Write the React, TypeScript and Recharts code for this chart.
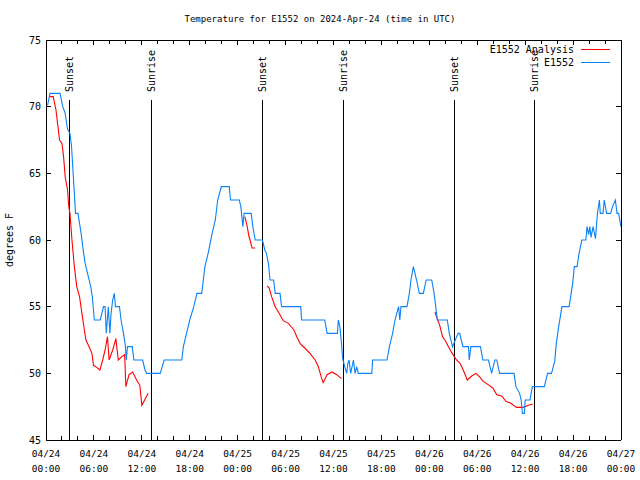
import React from 'react';
import { LineChart, Line, XAxis, YAxis, ReferenceLine } from 'recharts';

// hours since 04/24 00:00 UTC, temperature in F
const e1552: [number, number][] = [
  [0.2, 70.1], [0.5, 71], [1.75, 71], [2.1, 70], [2.4, 69.5], [2.7, 68.3], [3.0, 68],
  [3.2, 67], [3.45, 64.5], [3.7, 62], [4.0, 62], [4.2, 61.25], [4.4, 60.5], [4.6, 59.5],
  [4.9, 58.25], [5.2, 57.5], [5.6, 56.5], [5.8, 55.75], [6.05, 54], [6.8, 54], [7.2, 55],
  [7.4, 55], [7.55, 53], [7.8, 55], [8.0, 53], [8.15, 54.5], [8.35, 55.5], [8.55, 56],
  [8.7, 55], [9.2, 55], [9.4, 54], [9.7, 53], [9.95, 52], [10.05, 51], [10.2, 52],
  [10.8, 52], [11.0, 51], [12.1, 51], [12.4, 50.25], [12.6, 50], [14.3, 50], [14.8, 51],
  [17.0, 51], [17.2, 52], [17.6, 53], [18.0, 54], [18.5, 55], [18.9, 56], [19.5, 56],
  [19.9, 58], [20.3, 59], [20.8, 60.5], [21.2, 61.5], [21.5, 63], [21.95, 64], [22.95, 64],
  [23.1, 63], [24.2, 63], [24.4, 62.5], [24.65, 61], [24.8, 62], [25.7, 62], [25.9, 61],
  [26.2, 60], [27.1, 60], [27.4, 59.25], [27.6, 59], [27.85, 58.25], [28.05, 57], [28.5, 57],
  [28.7, 56], [29.3, 56], [29.5, 55], [31.9, 55], [32.0, 54], [34.9, 54], [35.2, 53],
  [36.5, 53], [36.6, 54], [36.8, 53.5], [37.0, 52.25], [37.15, 51.1], [37.4, 50.5],
  [37.65, 50], [37.8, 50.75], [37.95, 51], [38.15, 50], [38.5, 51], [38.7, 50], [38.9, 50.5],
  [39.1, 50], [40.8, 50], [40.9, 51], [42.7, 51], [43.0, 52], [43.4, 53], [43.7, 54],
  [44.15, 55], [44.3, 54], [44.45, 55], [45.2, 55], [45.5, 56], [45.7, 57], [46.0, 58],
  [46.4, 57], [46.75, 56], [47.25, 56], [47.6, 57], [48.3, 57], [48.6, 56], [48.8, 55],
  [49.0, 54], [50.25, 54], [50.5, 53], [50.9, 52], [51.6, 53], [51.8, 53], [52.2, 52],
  [52.9, 52], [53.0, 51], [53.2, 52], [54.4, 52], [54.7, 51], [55.4, 51], [55.8, 50],
  [56.2, 51], [56.45, 51], [56.8, 50], [58.6, 50], [58.85, 49], [59.3, 48.5], [59.5, 48],
  [59.65, 47], [59.9, 47], [60.0, 48], [60.6, 48], [60.9, 49], [62.4, 49], [62.8, 50],
  [63.3, 50], [63.7, 50.9], [63.9, 52.25], [64.2, 53.5], [64.6, 55], [65.5, 55],
  [65.7, 55.75], [65.95, 56.75], [66.15, 58], [66.5, 58], [66.75, 59], [67.1, 60],
  [67.6, 60], [67.75, 61], [67.95, 60.4], [68.1, 61], [68.25, 60.2], [68.5, 61],
  [68.8, 60.1], [69.05, 62], [69.3, 63], [69.4, 62], [69.75, 62], [69.9, 63], [70.2, 62],
  [70.7, 62], [71.0, 62.6], [71.3, 63], [71.5, 62], [71.7, 62], [72.0, 61],
];

const analysisNight1: [number, number][] = [
  [0.5, 70.75], [0.9, 70.75], [1.25, 69.75], [1.45, 68.75], [1.7, 67.5], [2.0, 67.25],
  [2.2, 66.25], [2.4, 64.75], [2.7, 63.75], [2.85, 62.5], [3.0, 62], [3.25, 60], [3.55, 58],
  [3.85, 56.5], [4.2, 55.75], [4.5, 54.5], [4.8, 53.25], [5.0, 52.5], [5.4, 52], [5.75, 51.5],
  [5.95, 50.6], [6.35, 50.45], [6.75, 50.25], [7.1, 51], [7.4, 51.75], [7.7, 52.75],
  [7.9, 51], [8.35, 51.75], [8.75, 52.6], [9.05, 51], [9.5, 51.25], [9.85, 51.4], [10.0, 49],
  [10.4, 49.9], [10.85, 50.1], [11.35, 49.5], [11.75, 49.1], [12.0, 47.6], [12.8, 48.5],
];
const analysisEvening1: [number, number][] = [
  [24.9, 61.75], [25.2, 61.0], [25.4, 60.3], [25.55, 60.0], [25.8, 59.4], [26.2, 59.4],
];
const analysisNight2: [number, number][] = [
  [27.7, 56.55], [27.95, 56.4], [28.25, 55.75], [28.7, 55], [29.3, 54.4], [29.7, 53.95],
  [30.35, 53.75], [31.05, 53.25], [31.4, 52.75], [31.8, 52.25], [32.4, 51.9], [33.05, 51.5],
  [33.7, 51], [34.1, 50.5], [34.45, 49.75], [34.7, 49.3], [35.2, 49.9], [35.8, 50.1],
  [36.4, 49.9], [37.0, 49.6],
];
const analysisNight3: [number, number][] = [
  [48.7, 54.6], [49.05, 54], [49.3, 53.6], [49.65, 52.75], [49.95, 52.5], [50.4, 52],
  [50.8, 51.55], [51.4, 51], [51.85, 50.75], [52.25, 50.25], [52.75, 49.5], [53.3, 49.8],
  [53.85, 50], [54.35, 49.7], [54.75, 49.4], [55.5, 49.1], [55.95, 48.9], [56.45, 48.4],
  [57.05, 48.3], [57.6, 47.9], [58.2, 47.75], [58.9, 47.45], [59.75, 47.45], [60.4, 47.6],
  [60.95, 47.7],
];

const sunHours = [3.0, 13.27, 27.05, 37.19, 51.09, 61.23];
const sunLabels = ['Sunset', 'Sunrise', 'Sunset', 'Sunrise', 'Sunset', 'Sunrise'];

const xTicks = Array.from({ length: 37 }, (_, i) => i * 2);
const xTickDates = ['04/24', '04/24', '04/24', '04/24', '04/25', '04/25', '04/25', '04/25', '04/26', '04/26', '04/26', '04/26', '04/27'];
const xTickTimes = ['00:00', '06:00', '12:00', '18:00', '00:00', '06:00', '12:00', '18:00', '00:00', '06:00', '12:00', '18:00', '00:00'];
const yTicks = [45, 50, 55, 60, 65, 70, 75];

const FONT = "'DejaVu Sans Mono', monospace";
const BLUE = '#0a82f5';
const RED = '#ff0000';

const toRows = (pts: [number, number][]) => pts.map(([h, t]) => ({ h, t }));
const blueData = toRows(e1552);
const redData = [
  ...toRows(analysisNight1), { h: 13, t: null },
  ...toRows(analysisEvening1), { h: 27, t: null },
  ...toRows(analysisNight2), { h: 40, t: null },
  ...toRows(analysisNight3),
];

const BottomTick = ({ x, y, payload }: any) => {
  const v = payload.value;
  const major = v % 6 === 0;
  return (
    <g>
      <line x1={x} y1={y} x2={x} y2={y - (major ? 5 : 4)} stroke="#000" shapeRendering="crispEdges" />
      {major && (
        <text x={x} textAnchor="middle" fontFamily={FONT} fontSize={9.5} fill="#000">
          <tspan x={x} y={y + 17}>{xTickDates[v / 6]}</tspan>
          <tspan x={x} y={y + 32}>{xTickTimes[v / 6]}</tspan>
        </text>
      )}
    </g>
  );
};

const TopTick = ({ x, y, payload }: any) => {
  const major = payload.value % 6 === 0;
  return <line x1={x} y1={y} x2={x} y2={y + (major ? 5 : 4)} stroke="#000" shapeRendering="crispEdges" />;
};

const LeftTick = ({ x, y, payload }: any) => (
  <g>
    <line x1={x} y1={y} x2={x + 5} y2={y} stroke="#000" shapeRendering="crispEdges" />
    <text x={x - 5} y={y} dy={3.5} textAnchor="end" fontFamily={FONT} fontSize={10} fill="#000">
      {payload.value}
    </text>
  </g>
);

const RightTick = ({ x, y }: any) => (
  <line x1={x} y1={y} x2={x - 5} y2={y} stroke="#000" shapeRendering="crispEdges" />
);

const SunLabel = (text: string) => (props: any) => {
  const { x, y } = props.viewBox;
  return (
    <text
      x={x}
      y={y - 8}
      transform={`rotate(-90, ${x}, ${y - 8})`}
      dy={3.5}
      fontFamily={FONT}
      fontSize={10}
      fill="#000"
    >
      {text}
    </text>
  );
};

export default function App() {
  return (
    <div style={{ position: 'absolute', left: 0, top: 0, width: 640, height: 480, background: '#fff' }}>
      <div
        style={{
          position: 'absolute', top: 12, left: 0, width: 640, textAlign: 'center',
          fontFamily: FONT, fontSize: 9, lineHeight: '14px',
        }}
      >
        Temperature for E1552 on 2024-Apr-24 (time in UTC)
      </div>
      <div
        style={{
          position: 'absolute', left: 10, top: 240, transform: 'translate(-50%, -50%) rotate(-90deg)',
          fontFamily: FONT, fontSize: 10, whiteSpace: 'nowrap', lineHeight: '12px',
        }}
      >
        degrees F
      </div>
      <LineChart width={640} height={480} margin={{ top: 39, right: 18, bottom: 39, left: 45 }}>
        <XAxis
          xAxisId="b" type="number" dataKey="h" domain={[0, 72]} ticks={xTicks} interval={0}
          allowDataOverflow height={1} tickSize={0} tickMargin={0} tickLine={false}
          axisLine={{ stroke: '#000', shapeRendering: 'crispEdges' }} tick={BottomTick}
        />
        <XAxis
          xAxisId="t" orientation="top" type="number" dataKey="h" domain={[0, 72]} ticks={xTicks}
          interval={0} allowDataOverflow height={1} tickSize={0} tickMargin={0} tickLine={false}
          axisLine={{ stroke: '#000', shapeRendering: 'crispEdges' }} tick={TopTick}
        />
        <YAxis
          yAxisId="l" type="number" domain={[45, 75]} ticks={yTicks} interval={0} allowDataOverflow
          width={1} tickSize={0} tickMargin={0} tickLine={false}
          axisLine={{ stroke: '#000', shapeRendering: 'crispEdges' }} tick={LeftTick}
        />
        <YAxis
          yAxisId="r" orientation="right" type="number" domain={[45, 75]} ticks={yTicks} interval={0}
          allowDataOverflow width={1} tickSize={0} tickMargin={0} tickLine={false}
          axisLine={{ stroke: '#000', shapeRendering: 'crispEdges' }} tick={RightTick}
        />
        {sunHours.map((h, i) => (
          <ReferenceLine
            key={i}
            xAxisId="b"
            yAxisId="l"
            segment={[{ x: h, y: 70.5 }, { x: h, y: 45 }]}
            stroke="#000"
            strokeWidth={1}
            shapeRendering="crispEdges"
            label={SunLabel(sunLabels[i])}
          />
        ))}
        <Line
          xAxisId="b" yAxisId="l" data={redData} dataKey="t" type="linear" stroke={RED}
          strokeWidth={1.1} dot={false} connectNulls={false} isAnimationActive={false}
          name="E1552 Analysis"
        />
        <Line
          xAxisId="b" yAxisId="l" data={blueData} dataKey="t" type="linear" stroke={BLUE}
          strokeWidth={1.1} dot={false} isAnimationActive={false} name="E1552"
        />
      </LineChart>
      <div style={{ position: 'absolute', left: 440, top: 42, width: 175, fontFamily: FONT, fontSize: 10 }}>
        <svg width={175} height={28}>
          <text x={134} y={7} dy={3.5} textAnchor="end" fill="#000">E1552 Analysis</text>
          <line x1={141} y1={7} x2={170} y2={7} stroke={RED} shapeRendering="crispEdges" />
          <text x={134} y={20} dy={3.5} textAnchor="end" fill="#000">E1552</text>
          <line x1={141} y1={20} x2={170} y2={20} stroke={BLUE} shapeRendering="crispEdges" />
        </svg>
      </div>
    </div>
  );
}
